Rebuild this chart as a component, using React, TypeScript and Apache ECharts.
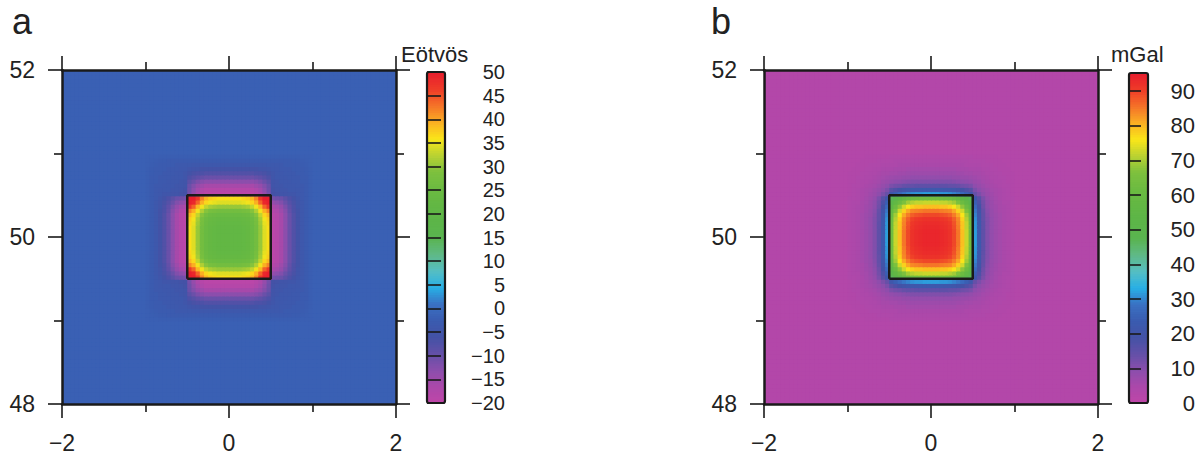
import React, { useEffect, useRef } from 'react';
import * as echarts from 'echarts';

// ---- axes / geometry data ----
const xRange = [-2, 2];
const yRange = [48, 52];
const xTickInterval = 2;
const yTickInterval = 2;
const cellStep = 0.05;
const prismX = [-0.5, 0.5];
const prismY = [49.5, 50.5];

// ---- panel a: gravity gradient (Eötvös) ----
const gradRange = [-20, 50];
const gradTicks = [-20, -15, -10, -5, 0, 5, 10, 15, 20, 25, 30, 35, 40, 45, 50];
const gradBackground = -1.8;
// one quarter of the field: rows = |y| cells (0.025..0.975), cols = |x| cells (0.025..0.975)
const gradQuarter = [
  [22, 22, 22, 22.5, 23, 24.5, 27, 30.5, 34.5, 36.5, -19, -18, -16, -13, -10, -7.5, -5.5, -4, -3, -2.2],
  [22, 22, 22, 22.5, 23, 24.5, 27, 30.5, 34.5, 36.5, -19, -18, -16, -13, -10, -7.5, -5.5, -4, -3, -2.2],
  [22, 22, 22, 22.5, 23, 24.5, 27, 30.5, 34.5, 36.5, -19, -18, -16, -13, -10, -7.5, -5.5, -4, -3, -2.2],
  [22.5, 22.5, 22.5, 23, 23.5, 25, 27.5, 31, 35, 37, -19, -18, -16, -13, -10, -7.5, -5.5, -4, -3, -2.2],
  [23, 23, 23, 23.5, 24, 25.5, 28, 31.5, 35.5, 37.5, -19, -18, -16, -13, -10, -7.5, -5.5, -4, -3, -2.2],
  [24.5, 24.5, 24.5, 25, 25.5, 27, 29.5, 33, 37, 39, -19, -18, -16, -13, -10, -7.5, -5.5, -4, -3, -2.2],
  [27, 27, 27, 27.5, 28, 29.5, 32, 35.5, 39.5, 42, -18, -17, -15, -12.5, -9.5, -7, -5.5, -4, -3, -2.2],
  [30.5, 30.5, 30.5, 31, 31.5, 33, 35.5, 39, 44, 47, -16.5, -15.5, -14, -11.5, -9, -7, -5, -4, -3, -2.2],
  [34.5, 34.5, 34.5, 35, 35.5, 37, 39.5, 44, 49, 50, -14, -13, -12, -10, -8, -6.5, -5, -4, -3, -2.2],
  [36.5, 36.5, 36.5, 37, 37.5, 39, 42, 47, 50, 50, -11, -10.5, -10, -8.5, -7, -5.5, -4.5, -3.5, -3, -2.2],
  [-19, -19, -19, -19, -19, -19, -18, -16.5, -14, -11, -6, -5.5, -5, -5, -4.5, -4.5, -4, -3.5, -3, -2.2],
  [-18, -18, -18, -18, -18, -18, -17, -15.5, -13, -10.5, -5.5, -5, -4.5, -4.5, -4, -4, -4, -3.5, -3, -2.2],
  [-16, -16, -16, -16, -16, -16, -15, -14, -12, -10, -5, -4.5, -4.5, -4, -4, -4, -3.5, -3.5, -3, -2.2],
  [-13, -13, -13, -13, -13, -13, -12.5, -11.5, -10, -8.5, -5, -4.5, -4, -4, -4, -3.5, -3.5, -3, -2.8, -2.2],
  [-10, -10, -10, -10, -10, -10, -9.5, -9, -8, -7, -4.5, -4, -4, -4, -3.5, -3.5, -3.5, -3, -2.8, -2.2],
  [-7.5, -7.5, -7.5, -7.5, -7.5, -7.5, -7, -7, -6.5, -5.5, -4.5, -4, -4, -3.5, -3.5, -3.5, -3, -3, -2.6, -2.2],
  [-5.5, -5.5, -5.5, -5.5, -5.5, -5.5, -5.5, -5, -5, -4.5, -4, -4, -3.5, -3.5, -3.5, -3, -3, -2.8, -2.5, -2.1],
  [-4, -4, -4, -4, -4, -4, -4, -4, -4, -3.5, -3.5, -3.5, -3.5, -3, -3, -3, -2.8, -2.6, -2.4, -2],
  [-3, -3, -3, -3, -3, -3, -3, -3, -3, -3, -3, -3, -3, -2.8, -2.8, -2.6, -2.5, -2.4, -2.2, -2],
  [-2.2, -2.2, -2.2, -2.2, -2.2, -2.2, -2.2, -2.2, -2.2, -2.2, -2.2, -2.2, -2.2, -2.2, -2.2, -2.2, -2.1, -2, -2, -1.9],
];

// ---- panel b: gravity (mGal) ----
const gravRange = [0, 95.2];
const gravTicks = [0, 10, 20, 30, 40, 50, 60, 70, 80, 90];
const gravBackground = 3;
const gravQuarter = [
  [94, 94, 93.5, 93, 92, 89.5, 85.5, 79.5, 72.5, 63.5, 32, 22, 15, 11, 8.5, 7, 6, 5, 4.5, 4],
  [94, 94, 93.5, 93, 92, 89.5, 85.5, 79.5, 72.5, 63.5, 32, 22, 15, 11, 8.5, 7, 6, 5, 4.5, 4],
  [93.5, 93.5, 93, 92.5, 91.5, 89, 85, 79, 72, 63.5, 31.5, 22, 15, 11, 8.5, 7, 6, 5, 4.5, 4],
  [93, 93, 92.5, 92, 91, 88.5, 84.5, 79, 72, 63, 31.5, 21.5, 15, 11, 8.5, 7, 6, 5, 4.5, 4],
  [92, 92, 91.5, 91, 90, 87.5, 84, 78, 71, 62.5, 31, 21.5, 14.5, 11, 8.5, 7, 6, 5, 4.5, 4],
  [89.5, 89.5, 89, 88.5, 87.5, 85, 81.5, 76, 69.5, 61, 30, 21, 14.5, 10.5, 8, 7, 6, 5, 4.5, 4],
  [85.5, 85.5, 85, 84.5, 84, 81.5, 78, 73, 66.5, 58.5, 29, 20, 14, 10, 8, 6.5, 5.5, 5, 4.5, 4],
  [79.5, 79.5, 79, 79, 78, 76, 73, 68, 62, 55, 27, 19, 13, 9.5, 7.5, 6.5, 5.5, 5, 4.5, 4],
  [72.5, 72.5, 72, 72, 71, 69.5, 66.5, 62, 57, 51, 24.5, 17.5, 12.5, 9, 7.5, 6, 5.5, 4.5, 4.5, 4],
  [63.5, 63.5, 63.5, 63, 62.5, 61, 58.5, 55, 51, 47, 21.5, 16, 11.5, 8.5, 7, 6, 5, 4.5, 4, 4],
  [32, 32, 31.5, 31.5, 31, 30, 29, 27, 24.5, 21.5, 14, 11.5, 9, 7.5, 6.5, 5.5, 5, 4.5, 4, 3.5],
  [22, 22, 22, 21.5, 21.5, 21, 20, 19, 17.5, 16, 11.5, 9.5, 8, 7, 6, 5.5, 5, 4.5, 4, 3.5],
  [15, 15, 15, 15, 14.5, 14.5, 14, 13, 12.5, 11.5, 9, 8, 7, 6, 5.5, 5, 4.5, 4, 4, 3.5],
  [11, 11, 11, 11, 11, 10.5, 10, 9.5, 9, 8.5, 7.5, 7, 6, 5.5, 5, 4.5, 4.5, 4, 3.5, 3.5],
  [8.5, 8.5, 8.5, 8.5, 8.5, 8, 8, 7.5, 7.5, 7, 6.5, 6, 5.5, 5, 4.5, 4.5, 4, 4, 3.5, 3.5],
  [7, 7, 7, 7, 7, 7, 6.5, 6.5, 6, 6, 5.5, 5.5, 5, 4.5, 4.5, 4, 4, 3.5, 3.5, 3.5],
  [6, 6, 6, 6, 6, 6, 5.5, 5.5, 5.5, 5, 5, 5, 4.5, 4.5, 4, 4, 3.5, 3.5, 3.5, 3],
  [5, 5, 5, 5, 5, 5, 5, 5, 4.5, 4.5, 4.5, 4.5, 4, 4, 4, 3.5, 3.5, 3.5, 3, 3],
  [4.5, 4.5, 4.5, 4.5, 4.5, 4.5, 4.5, 4.5, 4.5, 4, 4, 4, 4, 3.5, 3.5, 3.5, 3.5, 3, 3, 3],
  [4, 4, 4, 4, 4, 4, 4, 4, 4, 4, 3.5, 3.5, 3.5, 3.5, 3.5, 3.5, 3, 3, 3, 3],
];

// colour table (evenly spaced from min to max)
const colorTable = [
  '#c046a8', '#ac48aa', '#8c4eac', '#6450a8', '#4452a6', '#3a5cb0', '#3a70c2',
  '#28afe6', '#55bec3', '#5fb987', '#5ab450', '#5cb548', '#62b744', '#6cbb41',
  '#7dc03e', '#b9d232', '#fae619', '#faaf23', '#f57328', '#ee3c28', '#e81e2d',
];

const FONT = "'Liberation Sans', Arial, Helvetica, sans-serif";
const INK = '#1a1a1a';
const fmt = (v: number) => (v < 0 ? '\u2212' + Math.abs(v) : String(v));

function buildCells(quarter: number[][], bg: number) {
  const n = Math.round((xRange[1] - xRange[0]) / cellStep);
  const m = Math.round((yRange[1] - yRange[0]) / cellStep);
  const hx = n / 2;
  const hy = m / 2;
  const out: number[][] = [];
  for (let j = 0; j < m; j++) {
    for (let i = 0; i < n; i++) {
      const ix = i >= hx ? i - hx : hx - 1 - i;
      const iy = j >= hy ? j - hy : hy - 1 - j;
      const v = iy < quarter.length && ix < quarter[iy].length ? quarter[iy][ix] : bg;
      out.push([xRange[0] + (i + 0.5) * cellStep, yRange[0] + (j + 0.5) * cellStep, v]);
    }
  }
  return out;
}

function buildBar(range: number[], n: number) {
  const step = (range[1] - range[0]) / n;
  const out: number[][] = [];
  for (let k = 0; k < n; k++) {
    const v = range[0] + (k + 0.5) * step;
    out.push([0.5, v, v]);
  }
  return { data: out, step };
}

function frameX(gridIndex: number, position: string, showLabel: boolean) {
  return {
    type: 'value', gridIndex, position, min: xRange[0], max: xRange[1], interval: xTickInterval, z: 10,
    axisLine: { show: true, onZero: false, lineStyle: { color: INK, width: 2.5 } },
    axisTick: { show: true, inside: false, length: 14, lineStyle: { color: INK, width: 1.6 } },
    minorTick: { show: true, splitNumber: 2, length: 8, lineStyle: { color: INK, width: 1.6 } },
    splitLine: { show: false }, minorSplitLine: { show: false },
    axisLabel: { show: showLabel, margin: 27, fontSize: 23, color: '#222', fontFamily: FONT, formatter: fmt },
  };
}
function frameY(gridIndex: number, position: string, showLabel: boolean) {
  return {
    type: 'value', gridIndex, position, min: yRange[0], max: yRange[1], interval: yTickInterval, z: 10,
    axisLine: { show: true, onZero: false, lineStyle: { color: INK, width: 2.5 } },
    axisTick: { show: true, inside: false, length: 14, lineStyle: { color: INK, width: 1.6 } },
    minorTick: { show: true, splitNumber: 2, length: 8, lineStyle: { color: INK, width: 1.6 } },
    splitLine: { show: false }, minorSplitLine: { show: false },
    axisLabel: { show: showLabel, margin: 27, fontSize: 23, color: '#222', fontFamily: FONT, formatter: fmt },
  };
}
function barY(gridIndex: number, range: number[], ticks: number[], interval: number, tickLen: number, margin: number, fontSize: number) {
  return {
    type: 'value', gridIndex, position: 'right', min: range[0], max: range[1], interval, z: 10,
    axisLine: { show: false },
    axisTick: { show: true, inside: false, length: tickLen, customValues: ticks, lineStyle: { color: INK, width: 1.6 } },
    splitLine: { show: false },
    axisLabel: { show: true, customValues: ticks, align: 'right', margin, fontSize, color: '#222', fontFamily: FONT, formatter: fmt },
  };
}

const heatRender = (params: any, api: any) => {
  const x = api.value(0);
  const y = api.value(1);
  const h = cellStep / 2;
  const p0 = api.coord([x - h, y + h]);
  const p1 = api.coord([x + h, y - h]);
  return {
    type: 'rect',
    shape: { x: p0[0], y: p0[1], width: p1[0] - p0[0] + 1, height: p1[1] - p0[1] + 1 },
    style: { fill: api.visual('color') },
  };
};

function barRender(step: number) {
  return (params: any, api: any) => {
    const v = api.value(1);
    const p0 = api.coord([0, v + step / 2]);
    const p1 = api.coord([1, v - step / 2]);
    return {
      type: 'rect',
      shape: { x: p0[0], y: p0[1], width: p1[0] - p0[0], height: p1[1] - p0[1] + 0.8 },
      style: { fill: api.visual('color') },
    };
  };
}
function borderRender(range: number[]) {
  return (params: any, api: any) => {
    const p0 = api.coord([0, range[1]]);
    const p1 = api.coord([1, range[0]]);
    return {
      type: 'rect',
      shape: { x: p0[0], y: p0[1], width: p1[0] - p0[0], height: p1[1] - p0[1], r: 2 },
      style: { fill: 'none', stroke: INK, lineWidth: 2.2 },
    };
  };
}

const prismOutline = [
  [prismX[0], prismY[0]], [prismX[1], prismY[0]], [prismX[1], prismY[1]],
  [prismX[0], prismY[1]], [prismX[0], prismY[0]],
];

export default function App() {
  const ref = useRef<HTMLDivElement>(null);
  useEffect(() => {
    if (!ref.current) return;
    const chart = echarts.init(ref.current, undefined, { renderer: 'svg' });
    const barA = buildBar(gradRange, 140);
    const barB = buildBar(gravRange, 140);
    const option: any = {
      animation: false,
      backgroundColor: '#ffffff',
      grid: [
        { left: 62, top: 70, width: 334, height: 334 },
        { left: 427, top: 72, width: 18, height: 331 },
        { left: 764, top: 70, width: 334, height: 334 },
        { left: 1129, top: 73, width: 19, height: 330 },
      ],
      xAxis: [
        frameX(0, 'bottom', true),
        frameX(0, 'top', false),
        { type: 'value', gridIndex: 1, min: 0, max: 1, show: false },
        frameX(2, 'bottom', true),
        frameX(2, 'top', false),
        { type: 'value', gridIndex: 3, min: 0, max: 1, show: false },
      ],
      yAxis: [
        frameY(0, 'left', true),
        frameY(0, 'right', false),
        barY(1, gradRange, gradTicks, 5, 14, 60, 20),
        frameY(2, 'left', true),
        frameY(2, 'right', false),
        barY(3, gravRange, gravTicks, 10, 12, 47, 22),
      ],
      visualMap: [
        { type: 'continuous', show: false, min: gradRange[0], max: gradRange[1], dimension: 2, seriesIndex: [0, 2], inRange: { color: colorTable } },
        { type: 'continuous', show: false, min: gravRange[0], max: gravRange[1], dimension: 2, seriesIndex: [4, 6], inRange: { color: colorTable } },
      ],
      series: [
        { type: 'custom', xAxisIndex: 0, yAxisIndex: 0, data: buildCells(gradQuarter, gradBackground), renderItem: heatRender, encode: { x: 0, y: 1 }, silent: true, z: 2 },
        { type: 'line', xAxisIndex: 0, yAxisIndex: 0, data: prismOutline, symbol: 'none', lineStyle: { color: INK, width: 2.5 }, silent: true, z: 5 },
        { type: 'custom', xAxisIndex: 2, yAxisIndex: 2, data: barA.data, renderItem: barRender(barA.step), encode: { x: 0, y: 1 }, silent: true, z: 2 },
        { type: 'custom', xAxisIndex: 2, yAxisIndex: 2, data: [[0.5, 0]], renderItem: borderRender(gradRange), encode: { x: 0, y: 1 }, silent: true, z: 6 },
        { type: 'custom', xAxisIndex: 3, yAxisIndex: 3, data: buildCells(gravQuarter, gravBackground), renderItem: heatRender, encode: { x: 0, y: 1 }, silent: true, z: 2 },
        { type: 'line', xAxisIndex: 3, yAxisIndex: 3, data: prismOutline, symbol: 'none', lineStyle: { color: INK, width: 2.5 }, silent: true, z: 5 },
        { type: 'custom', xAxisIndex: 5, yAxisIndex: 5, data: barB.data, renderItem: barRender(barB.step), encode: { x: 0, y: 1 }, silent: true, z: 2 },
        { type: 'custom', xAxisIndex: 5, yAxisIndex: 5, data: [[0.5, 0]], renderItem: borderRender(gravRange), encode: { x: 0, y: 1 }, silent: true, z: 6 },
      ],
      graphic: [
        { type: 'text', x: 12, y: 21, style: { text: 'a', font: `36px ${FONT}`, fill: '#222', textVerticalAlign: 'middle' } },
        { type: 'text', x: 711, y: 21, style: { text: 'b', font: `36px ${FONT}`, fill: '#222', textVerticalAlign: 'middle' } },
        { type: 'text', x: 401, y: 54, style: { text: 'Eötvös', font: `22px ${FONT}`, fill: '#222', textVerticalAlign: 'middle' } },
        { type: 'text', x: 1111, y: 54, style: { text: 'mGal', font: `22px ${FONT}`, fill: '#222', textVerticalAlign: 'middle' } },
      ],
    };
    chart.setOption(option);
    return () => chart.dispose();
  }, []);
  return <div ref={ref} style={{ position: 'fixed', left: 0, top: 0, width: 1204, height: 456, background: '#fff' }} />;
}
